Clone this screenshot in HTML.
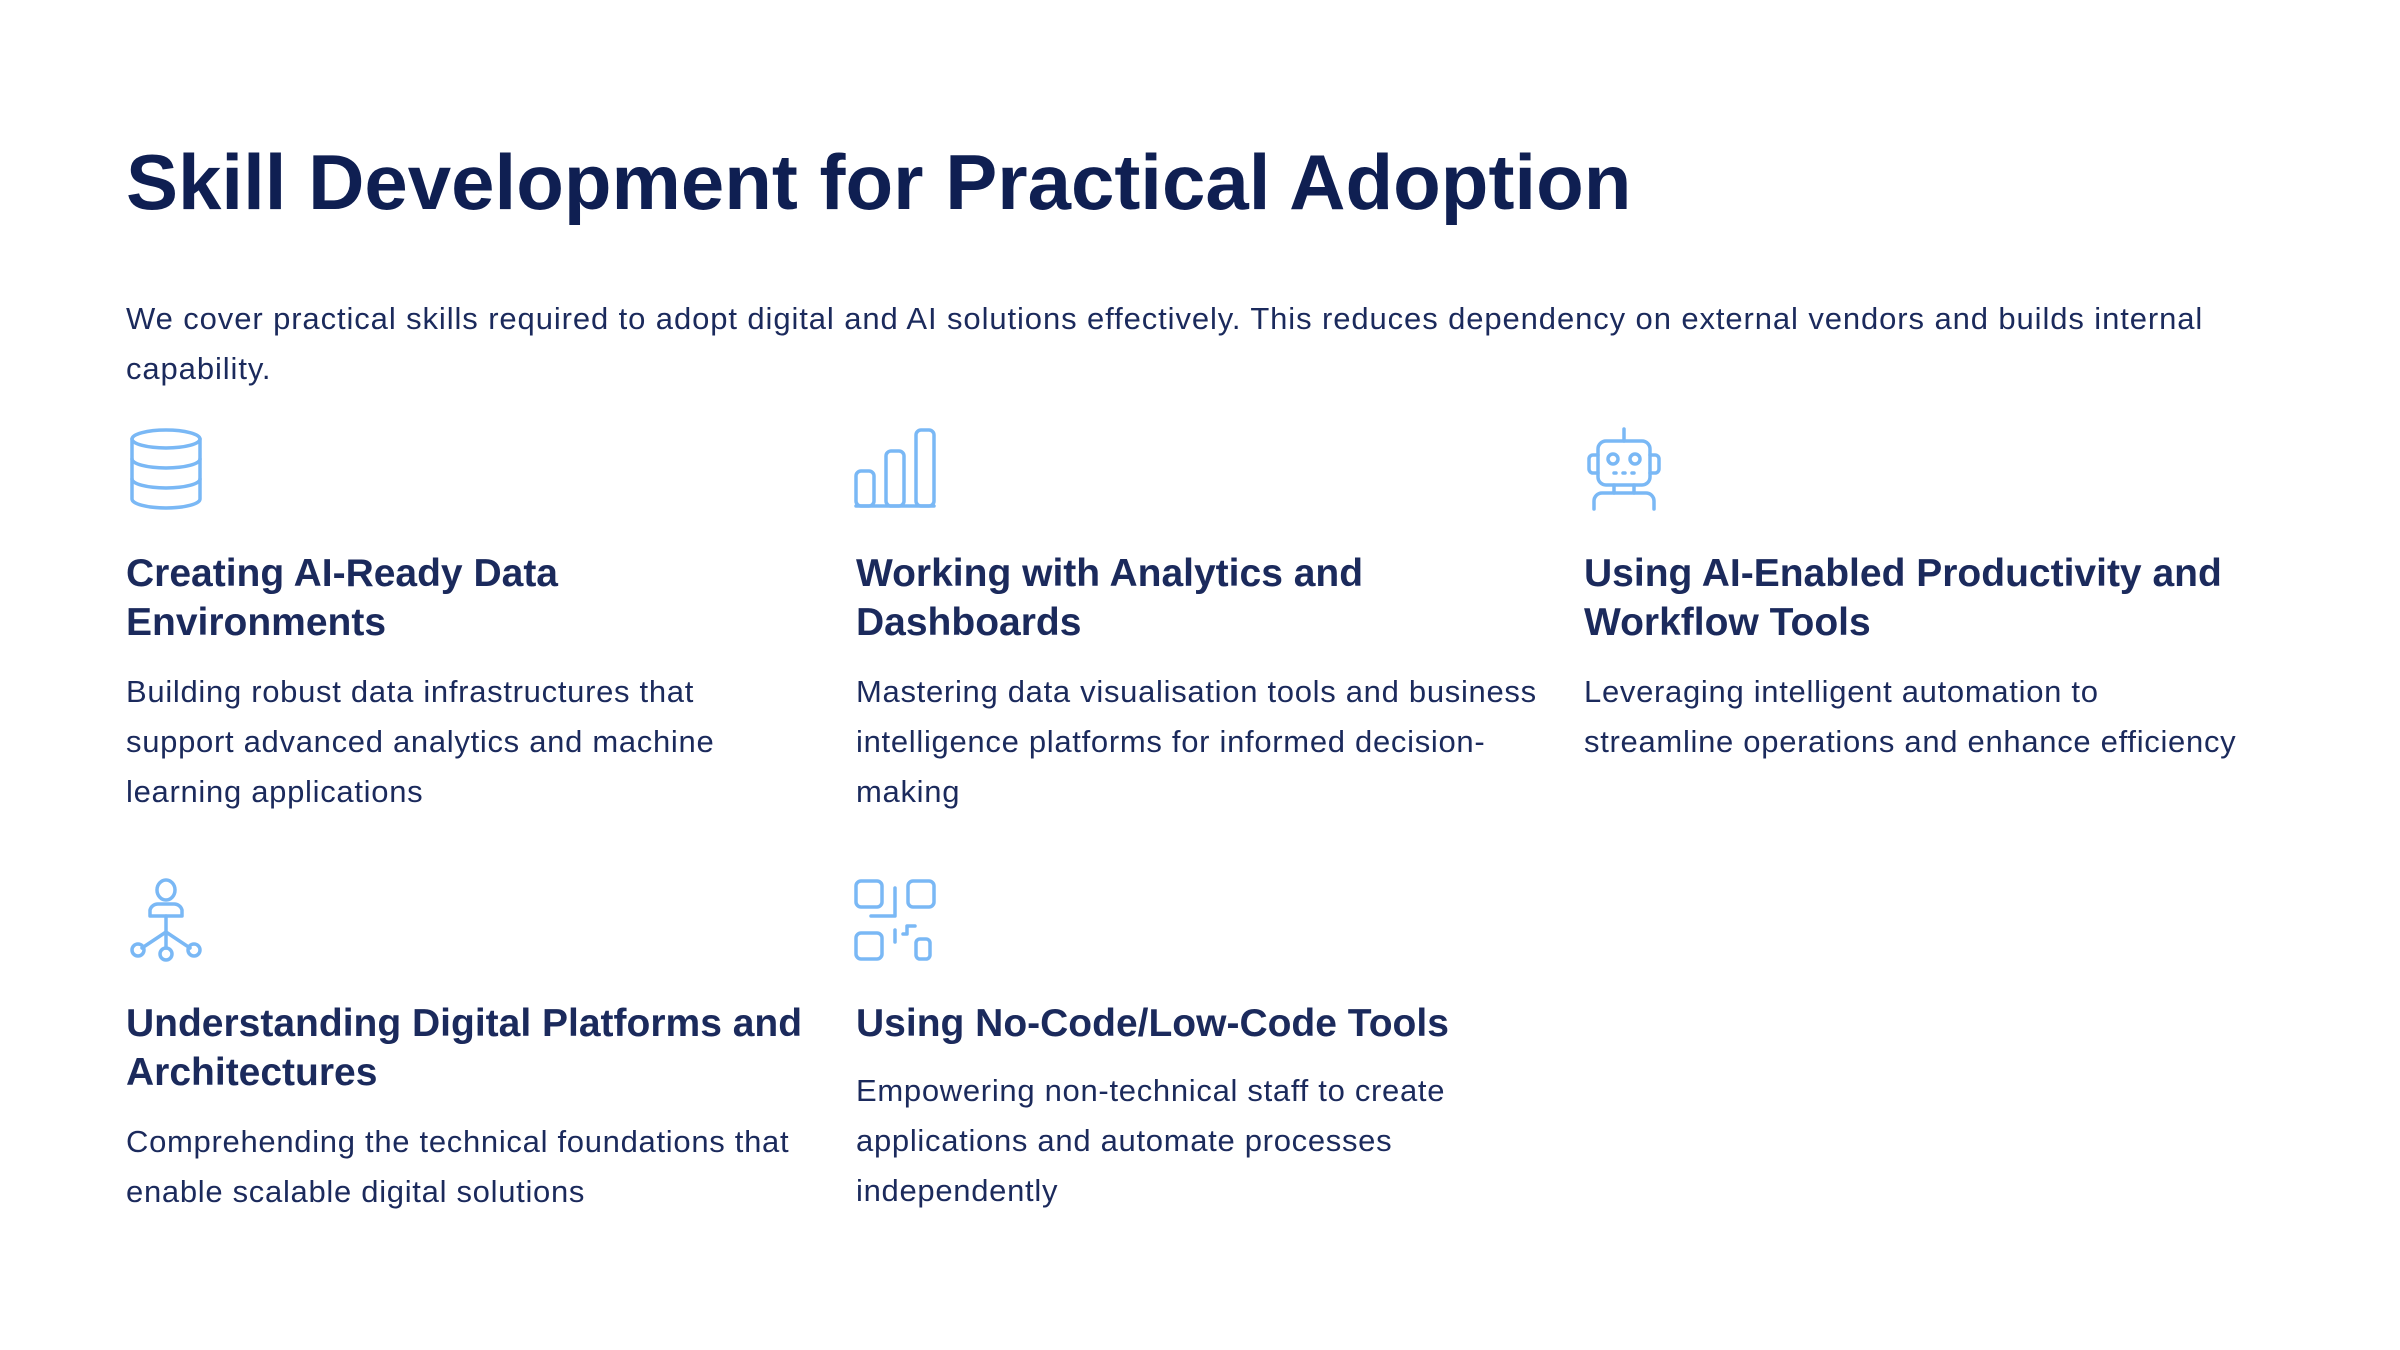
<!DOCTYPE html>
<html><head><meta charset="utf-8"><style>
html,body{margin:0;padding:0;background:#fff;}
body{width:2400px;height:1350px;position:relative;overflow:hidden;font-family:"Liberation Sans",sans-serif;color:#1b2a5c;}
.a{position:absolute;white-space:nowrap;}
.t{left:126px;top:137px;font-size:78px;font-weight:bold;line-height:90px;color:#0f1f52;letter-spacing:0px;}
.p{left:126px;top:294px;font-size:31px;line-height:50px;letter-spacing:0.9px;}
.h{font-size:39px;font-weight:bold;line-height:49px;color:#1b2a5c;letter-spacing:0px;}
.d{font-size:31px;line-height:50px;letter-spacing:0.7px;}
svg{position:absolute;}
svg *{fill:none;stroke:#7ab8f5;stroke-width:3.5;stroke-linecap:round;stroke-linejoin:round;}
</style></head><body>
<div class="a t">Skill Development for Practical Adoption</div>
<div class="a p">We cover practical skills required to adopt digital and AI solutions effectively. This reduces dependency on external vendors and builds internal<br>capability.</div>

<svg style="left:126px;top:427px" width="80" height="84" viewBox="0 0 80 84">
<ellipse cx="40" cy="12" rx="34" ry="9"/>
<path d="M6 12 V72 A34 9 0 0 0 74 72 V12"/>
<path d="M6 32 A34 9 0 0 0 74 32"/><path d="M6 52 A34 9 0 0 0 74 52"/>
</svg>
<svg style="left:853px;top:427px" width="84" height="84" viewBox="0 0 84 84">
<rect x="3" y="44" width="18" height="35" rx="5"/>
<rect x="33" y="24" width="18" height="55" rx="5"/>
<rect x="63" y="3" width="18" height="76" rx="5"/>
<path d="M3 79 H81"/>
</svg>
<svg style="left:1584px;top:427px" width="80" height="84" viewBox="0 0 80 84">
<path d="M40 2 V14"/>
<rect x="14" y="14" width="52" height="44" rx="8"/>
<path d="M14 28 H9 A4 4 0 0 0 5 32 V42 A4 4 0 0 0 9 46 H14"/>
<path d="M66 28 H71 A4 4 0 0 1 75 32 V42 A4 4 0 0 1 71 46 H66"/>
<circle cx="29" cy="32" r="5"/><circle cx="51" cy="32" r="5"/>
<path d="M30 46 H32 M39 46 H41 M48 46 H50"/>
<path d="M30 58 V66 M50 58 V66"/>
<path d="M10 82 V74 A8 8 0 0 1 18 66 H62 A8 8 0 0 1 70 74 V82"/>
</svg>
<svg style="left:128px;top:876px" width="76" height="86" viewBox="0 0 76 86">
<ellipse cx="38" cy="14" rx="9" ry="10"/>
<path d="M22 40 V34 A8 8 0 0 1 30 28 H46 A8 8 0 0 1 54 34 V40 Z"/>
<path d="M38 40 V72 M38 56 L14 72 M38 56 L62 72"/>
<circle cx="10" cy="74" r="6"/><circle cx="38" cy="78" r="6"/><circle cx="66" cy="74" r="6"/>
</svg>
<svg style="left:853px;top:878px" width="84" height="84" viewBox="0 0 84 84">
<rect x="3" y="3" width="26" height="26" rx="5"/>
<rect x="55" y="3" width="26" height="26" rx="5"/>
<rect x="3" y="55" width="26" height="26" rx="5"/>
<rect x="63" y="61" width="14" height="20" rx="4"/>
<path d="M42 10 V38 H18"/>
<path d="M42 52 V64"/>
<path d="M54 48 H62 M54 48 V56 H50"/>
</svg>

<div class="a h" style="left:126px;top:549px">Creating AI-Ready Data<br>Environments</div>
<div class="a d" style="left:126px;top:667px">Building robust data infrastructures that<br>support advanced analytics and machine<br>learning applications</div>

<div class="a h" style="left:856px;top:549px">Working with Analytics and<br>Dashboards</div>
<div class="a d" style="left:856px;top:667px">Mastering data visualisation tools and business<br>intelligence platforms for informed decision-<br>making</div>

<div class="a h" style="left:1584px;top:549px">Using AI-Enabled Productivity and<br>Workflow Tools</div>
<div class="a d" style="left:1584px;top:667px">Leveraging intelligent automation to<br>streamline operations and enhance efficiency</div>

<div class="a h" style="left:126px;top:999px">Understanding Digital Platforms and<br>Architectures</div>
<div class="a d" style="left:126px;top:1117px">Comprehending the technical foundations that<br>enable scalable digital solutions</div>

<div class="a h" style="left:856px;top:999px">Using No-Code/Low-Code Tools</div>
<div class="a d" style="left:856px;top:1066px">Empowering non-technical staff to create<br>applications and automate processes<br>independently</div>
</body></html>
